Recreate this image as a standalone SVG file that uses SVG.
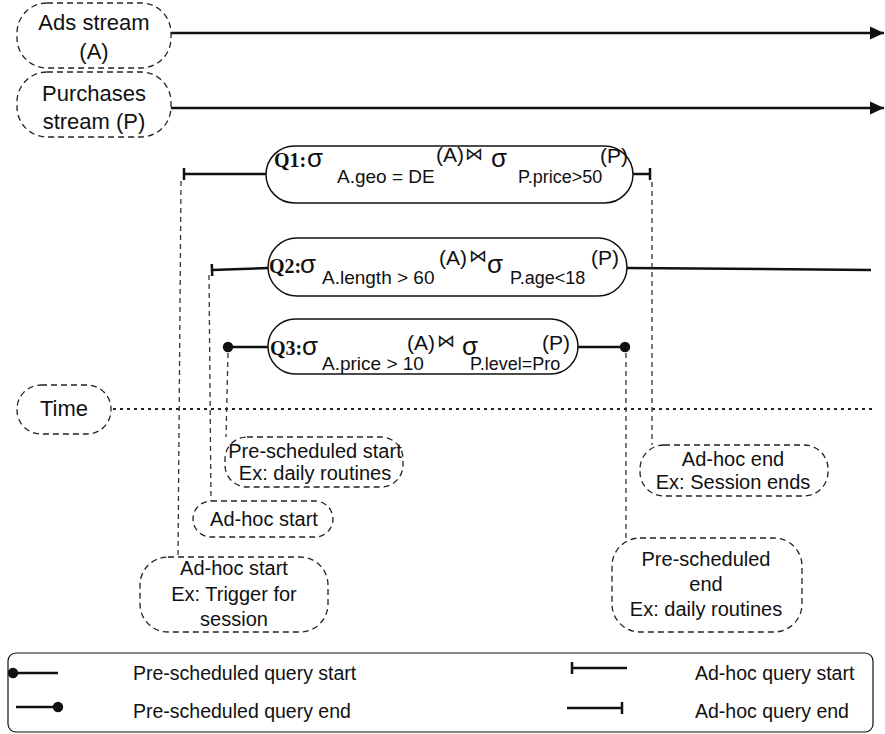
<svg xmlns="http://www.w3.org/2000/svg" width="885" height="734" viewBox="0 0 885 734">
  <style>
    .bg { fill: #ffffff; }
    .note { fill: #ffffff; stroke: #222; stroke-width: 1.3; stroke-dasharray: 6 4; }
    .pill { fill: #ffffff; stroke: #111; stroke-width: 1.5; }
    .legend { fill: none; stroke: #111; stroke-width: 1.2; }
    .wire { fill: none; stroke: #111; stroke-width: 2.5; }
    .guide { fill: none; stroke: #333; stroke-width: 1.3; stroke-dasharray: 5 4; }
    .time { fill: none; stroke: #222; stroke-width: 2; stroke-dasharray: 3 4; }
    .lbl { font-family: "Liberation Sans", Arial, sans-serif; font-size: 20px; fill: #111; text-anchor: middle; }
    .big { font-family: "Liberation Sans", Arial, sans-serif; font-size: 22px; fill: #111; text-anchor: middle; }
    .leg { font-family: "Liberation Sans", Arial, sans-serif; font-size: 19.5px; fill: #111; }
    .qn { font-family: "Liberation Serif", "Times New Roman", serif; font-weight: bold; font-size: 20px; fill: #111; }
    .sg { font-family: "Liberation Sans", Arial, sans-serif; font-size: 26px; fill: #111; }
    .f { font-family: "Liberation Sans", Arial, sans-serif; font-size: 19px; fill: #111; }
    .fp { font-family: "Liberation Sans", Arial, sans-serif; font-size: 21px; fill: #111; }
    .fs { font-family: "Liberation Sans", Arial, sans-serif; font-size: 18px; fill: #111; }
    .jn { font-family: "DejaVu Sans", sans-serif; font-size: 18px; fill: #111; }
  </style>
  <defs>
    <marker id="arrow" markerUnits="userSpaceOnUse" markerWidth="15" markerHeight="15" viewBox="0 0 15 15" refX="14" refY="7.5" orient="auto">
      <path d="M0,1 L14,7.5 L0,14 Z" fill="#111"/>
    </marker>
    <marker id="tick" markerUnits="userSpaceOnUse" markerWidth="6" markerHeight="14" viewBox="0 0 6 14" refX="3" refY="7" orient="auto">
      <line x1="3" y1="1" x2="3" y2="13" stroke="#111" stroke-width="2.5"/>
    </marker>
    <marker id="dot" markerUnits="userSpaceOnUse" markerWidth="12" markerHeight="12" viewBox="0 0 12 12" refX="6" refY="6" orient="auto">
      <circle cx="6" cy="6" r="5.2" fill="#111"/>
    </marker>
  </defs>

  <rect class="bg" x="0" y="0" width="885" height="734"/>

  <!-- timeline guides and query spans -->
  <g id="connectors">
    <line class="wire" x1="171" y1="33" x2="884" y2="33" marker-end="url(#arrow)"/>
    <line class="wire" x1="171" y1="108" x2="884" y2="108" marker-end="url(#arrow)"/>
    <line class="time" x1="113" y1="409" x2="876" y2="409"/>

    <!-- Q1 span -->
    <line class="wire" x1="184" y1="174" x2="266" y2="174" marker-start="url(#tick)"/>
    <line class="wire" x1="633" y1="174" x2="650" y2="174" marker-end="url(#tick)"/>
    <!-- Q2 span -->
    <line class="wire" x1="212" y1="270" x2="268" y2="268" marker-start="url(#tick)"/>
    <line class="wire" x1="627" y1="268" x2="871" y2="270"/>
    <!-- Q3 span -->
    <line class="wire" x1="228" y1="347" x2="268" y2="347" marker-start="url(#dot)"/>
    <line class="wire" x1="578" y1="347" x2="625" y2="347" marker-end="url(#dot)"/>

    <!-- drop lines to the notes -->
    <line class="guide" x1="181" y1="181" x2="178" y2="557"/>
    <line class="guide" x1="209" y1="275" x2="211" y2="501"/>
    <line class="guide" x1="228" y1="353" x2="226" y2="437"/>
    <line class="guide" x1="652" y1="182" x2="652" y2="445"/>
    <line class="guide" x1="626" y1="353" x2="626" y2="538"/>
  </g>

  <g id="ads-stream">
    <rect class="note" x="17" y="3" width="154" height="65" rx="30"/>
    <text class="big" x="94" y="30">Ads stream</text>
    <text class="big" x="94" y="59">(A)</text>
  </g>

  <g id="purchases-stream">
    <rect class="note" x="17" y="72" width="154" height="65" rx="30"/>
    <text class="big" x="94" y="101">Purchases</text>
    <text class="big" x="94" y="129">stream (P)</text>
  </g>

  <g id="time">
    <rect class="note" x="17" y="385" width="94" height="49" rx="24"/>
    <text class="big" x="64" y="416">Time</text>
  </g>

  <g id="q1">
    <rect class="pill" x="266" y="146" width="367" height="57" rx="28.5"/>
    <text class="qn" x="274" y="167">Q1:</text>
    <text class="sg" x="307" y="167">σ</text>
    <text class="f" x="337" y="183">A.geo = DE</text>
    <text class="fp" x="436" y="162">(A)</text>
    <text class="jn" x="465" y="160">⋈</text>
    <text class="sg" x="491" y="167">σ</text>
    <text class="fs" x="518" y="183">P.price&gt;50</text>
    <text class="fp" x="600" y="163">(P)</text>
  </g>

  <g id="q2">
    <rect class="pill" x="268" y="238" width="359" height="58" rx="29"/>
    <text class="qn" x="269" y="273">Q2:</text>
    <text class="sg" x="300" y="273">σ</text>
    <text class="f" x="322" y="284">A.length &gt; 60</text>
    <text class="fp" x="439" y="265">(A)</text>
    <text class="jn" x="469" y="262">⋈</text>
    <text class="sg" x="487" y="273">σ</text>
    <text class="fs" x="510" y="284">P.age&lt;18</text>
    <text class="fp" x="591" y="265">(P)</text>
  </g>

  <g id="q3">
    <rect class="pill" x="268" y="319" width="310" height="55" rx="27.5"/>
    <text class="qn" x="270" y="355">Q3:</text>
    <text class="sg" x="302" y="355">σ</text>
    <text class="f" x="322" y="370">A.price &gt; 10</text>
    <text class="fp" x="407" y="350">(A)</text>
    <text class="jn" x="437" y="347">⋈</text>
    <text class="sg" x="462" y="355">σ</text>
    <text class="fs" x="470" y="370">P.level=Pro</text>
    <text class="fp" x="542" y="350">(P)</text>
  </g>

  <g id="note-prescheduled-start">
    <rect class="note" x="225" y="437" width="178" height="50" rx="22"/>
    <text class="lbl" x="315" y="458">Pre-scheduled start</text>
    <text class="lbl" x="315" y="480">Ex: daily routines</text>
  </g>

  <g id="note-adhoc-start">
    <rect class="note" x="193" y="501" width="140" height="36" rx="18"/>
    <text class="lbl" x="264" y="526">Ad-hoc start</text>
  </g>

  <g id="note-adhoc-start-session">
    <rect class="note" x="140" y="557" width="188" height="75" rx="28"/>
    <text class="lbl" x="234" y="575">Ad-hoc start</text>
    <text class="lbl" x="234" y="601">Ex: Trigger for</text>
    <text class="lbl" x="234" y="626">session</text>
  </g>

  <g id="note-adhoc-end">
    <rect class="note" x="640" y="445" width="188" height="51" rx="24"/>
    <text class="lbl" x="733" y="466">Ad-hoc end</text>
    <text class="lbl" x="733" y="489">Ex: Session ends</text>
  </g>

  <g id="note-prescheduled-end">
    <rect class="note" x="612" y="538" width="190" height="94" rx="28"/>
    <text class="lbl" x="706" y="566">Pre-scheduled</text>
    <text class="lbl" x="706" y="591">end</text>
    <text class="lbl" x="706" y="616">Ex: daily routines</text>
  </g>

  <g id="legend">
    <rect class="legend" x="8" y="653" width="865" height="79" rx="8"/>
    <line class="wire" x1="13" y1="673" x2="58" y2="673" marker-start="url(#dot)"/>
    <text class="leg" x="133" y="680">Pre-scheduled query start</text>
    <line class="wire" x1="16" y1="707" x2="58" y2="707" marker-end="url(#dot)"/>
    <text class="leg" x="133" y="718">Pre-scheduled query end</text>
    <line class="wire" x1="572" y1="668" x2="627" y2="668" marker-start="url(#tick)"/>
    <text class="leg" x="695" y="680">Ad-hoc query start</text>
    <line class="wire" x1="567" y1="708" x2="622" y2="708" marker-end="url(#tick)"/>
    <text class="leg" x="695" y="718">Ad-hoc query end</text>
  </g>
</svg>
